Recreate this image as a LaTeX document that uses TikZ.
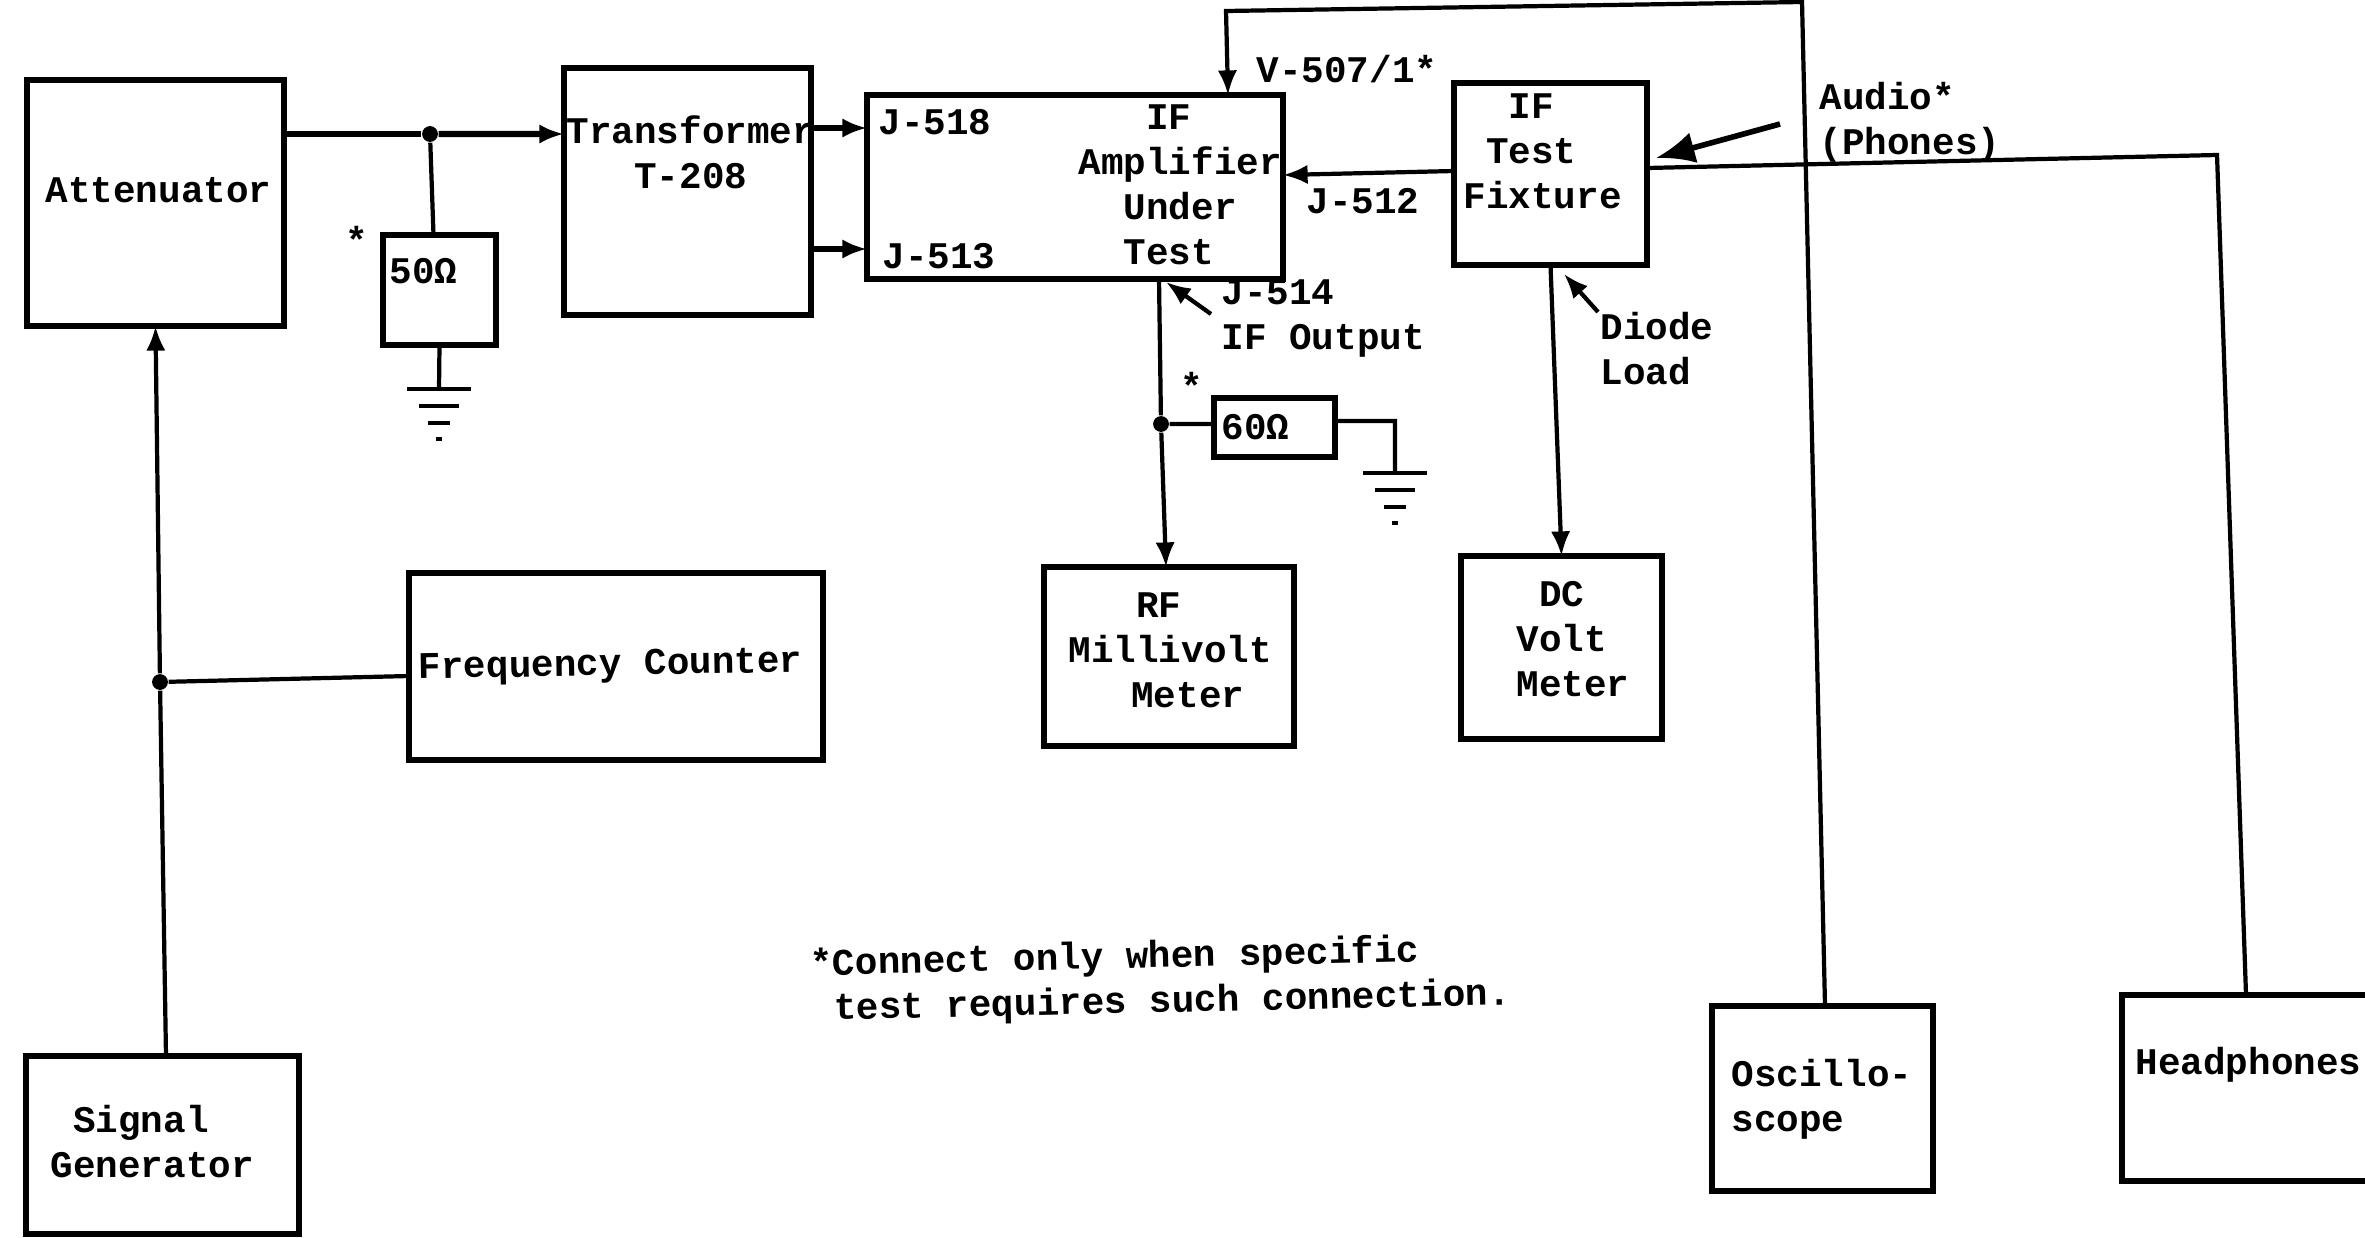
\documentclass[tikz,border=0pt]{standalone}
\usepackage{fontspec}
\setmainfont{Liberation Mono}
\usetikzlibrary{calc,arrows.meta}
\tikzset{
    box/.style={draw, line width=1.5pt, inner sep=0pt, outer sep=0pt},
    lbl/.style={anchor=west, align=left, inner sep=0pt,
        font=\fontsize{10.7}{12.8}\selectfont\bfseries},
    conn/.style={line width=1.2pt, -{Latex[length=7pt, width=5.5pt]}},
    wire/.style={line width=1.2pt},
    dot/.style={circle, fill, inner sep=0pt, minimum size=4.5pt},
    ground/.pic={
        \draw[line width=1.3pt] (-0.32, 0) -- (0.32, 0);
        \draw[line width=1.3pt] (-0.2, -0.17) -- (0.2, -0.17);
        \draw[line width=1.3pt] (-0.11, -0.34) -- (0.11, -0.34);
        \draw[line width=1.3pt] (-0.03, -0.5) -- (0.03, -0.5);
    }
}

\begin{document}
\begin{tikzpicture}
    \useasboundingbox (0, 0) rectangle (23.65, 12.37);

    \node[box, minimum width=2.57cm, minimum height=2.46cm] (atten) at (1.555, 10.34) {};
    \node[box, minimum width=2.47cm, minimum height=2.47cm] (trans) at (6.875, 10.455) {};
    \node[box, minimum width=4.16cm, minimum height=1.84cm] (amp) at (10.75, 10.5) {};
    \node[box, minimum width=1.93cm, minimum height=1.82cm] (fixture) at (15.505, 10.63) {};
    \node[box, minimum width=1.13cm, minimum height=1.1cm] (fifty) at (4.395, 9.47) {};
    \node[box, minimum width=1.21cm, minimum height=0.59cm] (sixty) at (12.745, 8.095) {};
    \node[box, minimum width=2.5cm, minimum height=1.79cm] (rf) at (11.69, 5.805) {};
    \node[box, minimum width=2.01cm, minimum height=1.83cm] (dc) at (15.615, 5.895) {};
    \node[box, minimum width=4.14cm, minimum height=1.87cm] (freq) at (6.16, 5.705) {};
    \node[box, minimum width=2.73cm, minimum height=1.78cm] (siggen) at (1.625, 0.92) {};
    \node[box, minimum width=2.21cm, minimum height=1.85cm] (scope) at (18.225, 1.385) {};
    \node[box, minimum width=2.78cm, minimum height=1.86cm] (phones) at (22.61, 1.49) {};

    \node[lbl] (attenlbl) at (0.45, 10.47) {Attenuator};
    \node[lbl] (translbl) at (5.66, 10.85) {Transformer\\~~~T-208};
    \node[lbl] (j518) at (8.78, 11.15) {J-518};
    \node[lbl] (j513) at (8.82, 9.81) {J-513};
    \node[lbl] (amplbl) at (10.78, 10.52) {~~~IF\\Amplifier\\~~Under\\~~Test};
    \node[lbl] (v507) at (12.56, 11.68) {V-507/1*};
    \node[lbl] (j512) at (13.06, 10.36) {J-512};
    \node[lbl] (fixlbl) at (14.63, 10.86) {~~IF\\~Test\\Fixture};
    \node[lbl] (audio) at (18.19, 11.15) {Audio*\\(Phones)};
    \node[lbl] (j514) at (12.21, 9.18) {J-514\\IF Output};
    \node[lbl] (diode) at (16, 8.88) {Diode\\Load};
    \node[lbl] (stara) at (3.45, 9.97) {*};
    \node[lbl] (starb) at (11.8, 8.51) {*};
    \node[lbl] (fiftylbl) at (3.89, 9.66) {50Ω};
    \node[lbl] (sixtylbl) at (12.21, 8.1) {60Ω};
    \node[lbl] (rflbl) at (10.68, 5.87) {~~~RF\\Millivolt\\~~\kern5pt Meter};
    \node[lbl] (dclbl) at (15.16, 5.98) {~DC\\Volt\\Meter};
    \node[lbl, rotate=1] (freqlbl) at (4.18, 5.67) {Frequency Counter};
    \node[lbl] (siglbl) at (0.5, 0.95) {~Signal\\Generator};
    \node[lbl] (scopelbl) at (17.31, 1.38) {Oscillo-\\scope};
    \node[lbl] (phoneslbl) at (21.35, 1.72) {Headphones};
    \node[lbl, rotate=1.3] (note) at (8.1, 2.49) {*Connect only when specific\\~test requires such connection.};

    \node[dot] (dota) at (4.3, 11.03) {};
    \node[dot] (dotb) at (11.61, 8.13) {};
    \node[dot] (dotc) at (1.6, 5.55) {};

    \draw[wire, line width=1.8pt] ($(atten.east)+(0, 0.69)$) -- (dota);
    \draw[conn, line width=1.8pt] (dota) -- ($(trans.west)+(0, 0.575)$);
    \draw[wire] (dota) -- ($(fifty.north)+(-0.06, 0)$);
    \coordinate (gnda) at (4.39, 8.48);
    \draw[wire] (fifty.south) -- (gnda);
    \pic at (gnda) {ground};

    \draw[conn, line width=1.5pt] ($(trans.east)+(0, 0.635)$) -- ($(amp.west)+(0, 0.59)$);
    \draw[conn, line width=1.5pt] ($(trans.east)+(0, -0.575)$) -- ($(amp.west)+(0, -0.62)$);

    \draw[conn] ($(fixture.west)+(0, 0.03)$) -- ($(amp.east)+(0, 0.12)$);
    \coordinate (topright) at (18.02, 12.35);
    \coordinate (topleft) at (12.26, 12.26);
    \draw[conn] ($(scope.north)+(0.025, 0)$) -- (topright) -- (topleft) -- ($(amp.north)+(1.53, 0)$);

    \coordinate (phonecorner) at (22.17, 10.82);
    \draw[wire] ($(fixture.east)+(0, 0.06)$) -- (phonecorner) -- ($(phones.north)+(-0.15, 0)$);
    \coordinate (audiotail) at (17.8, 11.13);
    \coordinate (audiotip) at (16.56, 10.79);
    \draw[line width=1.6pt, -{Latex[length=11pt, width=9pt]}] (audiotail) -- (audiotip);

    \draw[wire] ($(amp.south)+(0.84, 0)$) -- (dotb);
    \draw[conn] (dotb) -- ($(rf.north)+(-0.03, 0)$);
    \draw[wire] (dotb) -- ($(sixty.west)+(0, 0.035)$);
    \coordinate (gndb) at (13.95, 7.64);
    \coordinate (gndbcorner) at (13.95, 8.16);
    \draw[wire] ($(sixty.east)+(0, 0.065)$) -- (gndbcorner) -- (gndb);
    \pic at (gndb) {ground};

    \coordinate (j514tail) at (12.11, 9.23);
    \coordinate (j514tip) at (11.66, 9.55);
    \draw[conn] (j514tail) -- (j514tip);
    \coordinate (diodetail) at (15.98, 9.25);
    \coordinate (diodetip) at (15.64, 9.63);
    \draw[conn] (diodetail) -- (diodetip);

    \draw[conn] (fixture.south) -- (dc.north);

    \draw[wire] ($(siggen.north)+(0.035, 0)$) -- (dotc);
    \draw[conn] (dotc) -- (atten.south);
    \draw[wire] ($(freq.west)+(0, -0.095)$) -- (dotc);
\end{tikzpicture}
\end{document}
